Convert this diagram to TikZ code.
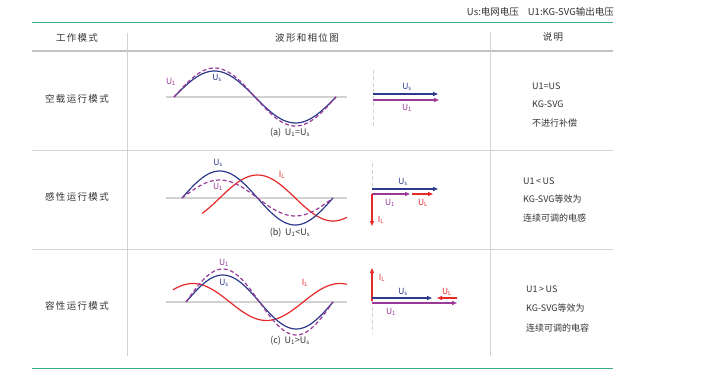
\documentclass[tikz,border=0pt]{standalone}
\usepackage{fontspec}
\setmainfont{Noto Sans CJK SC}
\usetikzlibrary{arrows.meta}
\definecolor{cblue}{HTML}{2E3A8C}
\definecolor{cpurp}{HTML}{9A3A98}
\definecolor{cred}{HTML}{E62A2A}
\definecolor{cgreen}{HTML}{3DAE8A}
\definecolor{cgrid}{HTML}{D2D2D2}
\definecolor{chead}{HTML}{C2C2C2}
\definecolor{ctext}{HTML}{333333}
\begin{document}
\begin{tikzpicture}[x=1pt,y=-1pt,
  txt/.style={font=\fontsize{9}{10}\selectfont, text=ctext, inner sep=0pt, anchor=west},
  hdr/.style={font=\fontsize{9.5}{11}\selectfont\addfontfeature{LetterSpace=14}, text=ctext, inner sep=0pt},
  lab/.style={font=\fontsize{8.5}{9}\selectfont, inner sep=0pt},
  captxt/.style={font=\fontsize{9}{10}\selectfont, text=ctext, inner sep=0pt},
  axisline/.style={cgrid, line width=1.2pt},
  wave/.style={line width=1.2pt},
  dwave/.style={line width=1.2pt, dash pattern=on 4pt off 2.5pt},
  vec/.style={line width=1.1pt, -{Triangle[length=5pt,width=4pt]}},
  vline/.style={cgrid, line width=1pt, dash pattern=on 4pt off 2.5pt},
  grid/.style={cgrid, line width=0.7pt},
  greenline/.style={cgreen, line width=1pt}]
\useasboundingbox[fill=white] (0,0) rectangle (727,385);

% table lines
\draw[greenline] (32,23) -- (613,23);
\draw[chead, line width=1.3pt] (32,51) -- (613,51);
\draw[grid] (32,150) -- (613,150);
\draw[grid] (32,249) -- (613,249);
\draw[grid] (127,33) -- (127,356);
\draw[grid] (490,32) -- (490,356);
\draw[greenline] (32,368) -- (613,368);

% top caption
\node[captxt, anchor=east, font=\fontsize{9.5}{10}\selectfont] (legend) at (614,12) {Us:电网电压\hspace{9pt}U1:KG-SVG输出电压};

% header
\node[hdr] (h1) at (77,38) {工作模式};
\node[hdr] (h2) at (307,38) {波形和相位图};
\node[hdr] (h3) at (553,37) {说明};

% row labels
\node[hdr] (r1) at (77,99) {空载运行模式};
\node[hdr] (r2) at (77,197) {感性运行模式};
\node[hdr] (r3) at (77,306) {容性运行模式};

% ---------- Row 1 waveforms ----------
\draw[axisline] (166,97) -- (347,97);
\draw[wave,cblue] plot[variable=\t, domain=0:360, samples=73, smooth] ({174+162*(\t/360)},{97-26*sin(\t)});
\draw[dwave,cpurp] plot[variable=\t, domain=0:360, samples=73, smooth] ({174+162*(\t/360)},{97-29*sin(\t)});
\node[lab, text=cpurp] (a1) at (171,82) {U\textsubscript{1}};
\node[lab, text=cblue] (a2) at (217,78) {U\textsubscript{s}};
\node[captxt] (ca) at (290,133) {(a)\, U\textsubscript{1}=U\textsubscript{s}};

% Row 1 phasors
\coordinate (p1t) at (373,70);
\coordinate (p1b) at (373,128);
\draw[vline] (p1t) -- (p1b);
\coordinate (p1o) at (373,94);
\coordinate (p1s) at (438,94);
\coordinate (p1oo) at (373,100);
\coordinate (p1u) at (439,100);
\draw[vec,cblue] (p1o) -- (p1s);
\draw[vec,cpurp] (p1oo) -- (p1u);
\node[lab, text=cblue] (pa1) at (407,87) {U\textsubscript{s}};
\node[lab, text=cpurp] (pa2) at (407,108) {U\textsubscript{1}};

% right text row 1
\node[txt] (t11) at (532,86) {U1=US};
\node[txt] (t12) at (532,104) {KG-SVG};
\node[txt] (t13) at (532,123) {不进行补偿};

% ---------- Row 2 waveforms ----------
\draw[axisline] (166,198) -- (347,198);
\draw[wave,cred] plot[variable=\t, domain=48:393, samples=70, smooth] ({182+151*(\t/360)},{198-23*sin(\t-90)});
\draw[wave,cblue] plot[variable=\t, domain=0:360, samples=73, smooth] ({182+151*(\t/360)},{198-27*sin(\t)});
\draw[dwave,cpurp] plot[variable=\t, domain=0:360, samples=73, smooth] ({182+151*(\t/360)},{198-18*sin(\t)});
\node[lab, text=cblue] (b1) at (218,163) {U\textsubscript{s}};
\node[lab, text=cpurp] (b2) at (218,187) {U\textsubscript{1}};
\node[lab, text=cred] (b3) at (282,175) {I\textsubscript{L}};
\node[captxt] (cb) at (290,233) {(b)\, U\textsubscript{1}<U\textsubscript{s}};

% Row 2 phasors
\coordinate (p2t) at (372,163);
\coordinate (p2b) at (372,189);
\draw[vline] (p2t) -- (p2b);
\coordinate (p2o) at (372,189);
\coordinate (p2s) at (438,189);
\coordinate (p2oo) at (372,194);
\coordinate (p2u) at (410,194);
\coordinate (p2l0) at (412,194);
\coordinate (p2l) at (433,194);
\coordinate (p2i) at (372,226);
\draw[vec,cblue] (p2o) -- (p2s);
\draw[vec,cpurp] (p2oo) -- (p2u);
\draw[vec,cred] (p2l0) -- (p2l);
\draw[vec,cred] (p2oo) -- (p2i);
\node[lab, text=cblue] (pb1) at (403,182) {U\textsubscript{s}};
\node[lab, text=cpurp] (pb2) at (390,203) {U\textsubscript{1}};
\node[lab, text=cred] (pb3) at (423,203) {U\textsubscript{L}};
\node[lab, text=cred] (pb4) at (381,220) {I\textsubscript{L}};

% right text row 2
\node[txt] (t21) at (523,181) {U1\,<\,US};
\node[txt] (t22) at (523,199) {KG-SVG等效为};
\node[txt] (t23) at (523,218) {连续可调的电感};

% ---------- Row 3 waveforms ----------
\draw[axisline] (166,302) -- (347,302);
\draw[wave,cred] plot[variable=\t, domain=-32:394, samples=80, smooth] ({186+147*(\t/360)},{302-18.5*cos(\t-17)});
\draw[wave,cblue] plot[variable=\t, domain=0:360, samples=73, smooth] ({186+147*(\t/360)},{302-27*sin(\t)});
\draw[dwave,cpurp] plot[variable=\t, domain=0:360, samples=73, smooth] ({186+147*(\t/360)},{302-33*sin(\t)});
\node[lab, text=cpurp] (c1) at (224,263) {U\textsubscript{1}};
\node[lab, text=cblue] (c2) at (224,283) {U\textsubscript{s}};
\node[lab, text=cred] (c3) at (305,283) {I\textsubscript{L}};
\node[captxt] (cc) at (290,341) {(c)\, U\textsubscript{1}>U\textsubscript{s}};

% Row 3 phasors
\coordinate (p3t) at (372,300);
\coordinate (p3b) at (372,333);
\draw[vline] (p3t) -- (p3b);
\coordinate (p3o) at (372,298);
\coordinate (p3s) at (432,298);
\coordinate (p3oo) at (372,303);
\coordinate (p3u) at (457,303);
\coordinate (p3l0) at (457,298);
\coordinate (p3l) at (437,298);
\coordinate (p3i0) at (372,301);
\coordinate (p3i) at (372,268);
\draw[vec,cred] (p3i0) -- (p3i);
\draw[vec,cblue] (p3o) -- (p3s);
\draw[vec,cpurp] (p3oo) -- (p3u);
\draw[vec,cred] (p3l0) -- (p3l);
\node[lab, text=cred] (pc1) at (382,278) {I\textsubscript{L}};
\node[lab, text=cblue] (pc2) at (403,292) {U\textsubscript{s}};
\node[lab, text=cred] (pc3) at (447,292) {U\textsubscript{L}};
\node[lab, text=cpurp] (pc4) at (391,312) {U\textsubscript{1}};

% right text row 3
\node[txt] (t31) at (526,289) {U1\,>\,US};
\node[txt] (t32) at (526,308) {KG-SVG等效为};
\node[txt] (t33) at (526,328) {连续可调的电容};
\end{tikzpicture}
\end{document}
